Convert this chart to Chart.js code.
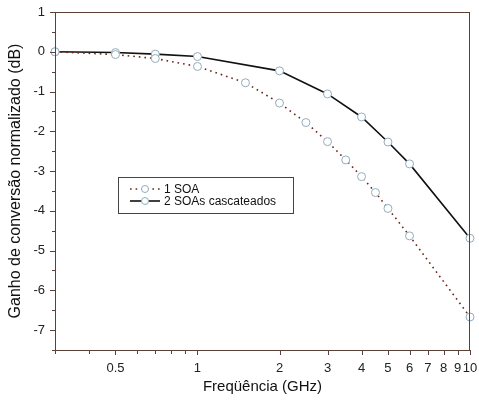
<!DOCTYPE html>
<html>
<head>
<meta charset="utf-8">
<script src="https://cdn.jsdelivr.net/npm/chart.js@4"></script>
<style>
  body { margin: 0; background: #fff; }
  #wrap { width: 479px; height: 400px; }
</style>
</head>
<body>
<div id="wrap"><canvas id="chart-1"></canvas></div>
<script>
/* global Chart */

// data
const freqOne = [0.3, 0.5, 0.7, 1, 1.5, 2, 2.5, 3, 3.5, 4, 4.5, 5, 6, 10]
const gainOne = [0, -0.07, -0.17, -0.37, -0.78, -1.29, -1.78, -2.26, -2.72, -3.14, -3.54, -3.94, -4.63, -6.67]
const freqTwo = [0.3, 0.5, 0.7, 1, 2, 3, 4, 5, 6, 10]
const gainTwo = [0, -0.02, -0.06, -0.12, -0.48, -1.06, -1.64, -2.27, -2.82, -4.69]
const seriesLabels = ['1 SOA', '2 SOAs cascateados']
const xTicks = [0.3, 0.4, 0.5, 0.6, 0.7, 0.8, 0.9, 1, 2, 3, 4, 5, 6, 7, 8, 9, 10]
const xLabelled = [0.5, 1, 2, 3, 4, 5, 6, 7, 8, 9, 10]

const FRAME = '#5b4038'
const MARKER = '#93adbb'
const FONT = 'Liberation Sans, Arial, sans-serif'

const toPoints = (xs, ys) => xs.map((x, i) => ({ x, y: ys[i] }))

// frame, tick marks and the boxed legend
const framePlugin = {
  id: 'frame',
  afterDraw (chart) {
    const ctx = chart.ctx
    const area = chart.chartArea
    const xs = chart.scales.x
    const ys = chart.scales.y
    ctx.save()
    ctx.strokeStyle = FRAME
    ctx.lineWidth = 1
    ctx.strokeRect(area.left + 0.5, area.top + 0.5, area.right - area.left - 1, area.bottom - area.top)
    ctx.beginPath()
    xs.ticks.forEach(t => {
      const px = Math.round(xs.getPixelForValue(t.value)) + 0.5
      ctx.moveTo(px, area.bottom)
      ctx.lineTo(px, area.bottom + (xLabelled.includes(t.value) ? 5 : 4))
    })
    ys.ticks.forEach(t => {
      const py = Math.round(ys.getPixelForValue(t.value)) + 0.5
      ctx.moveTo(area.left, py)
      ctx.lineTo(area.left - (Number.isInteger(t.value) ? 5 : 3), py)
    })
    ctx.stroke()

    // legend
    const lx = 118
    const ly = 177
    ctx.fillStyle = '#fff'
    ctx.fillRect(lx, ly, 175, 36)
    ctx.strokeStyle = '#444'
    ctx.strokeRect(lx + 0.5, ly + 0.5, 175, 36)
    ctx.font = '12px ' + FONT
    ctx.textBaseline = 'middle'
    chart.data.datasets.forEach((ds, i) => {
      const y = ly + 12 + i * 12
      ctx.beginPath()
      ctx.strokeStyle = ds.borderColor
      ctx.lineWidth = ds.borderWidth
      ctx.setLineDash(ds.borderDash || [])
      ctx.moveTo(lx + 12, y)
      ctx.lineTo(lx + 42, y)
      ctx.stroke()
      ctx.setLineDash([])
      ctx.beginPath()
      ctx.fillStyle = '#fff'
      ctx.strokeStyle = MARKER
      ctx.lineWidth = 1
      ctx.arc(lx + 27, y, 3.5, 0, Math.PI * 2)
      ctx.fill()
      ctx.stroke()
      ctx.fillStyle = '#111'
      ctx.fillText(ds.label, lx + 46, y + 1)
    })
    ctx.restore()
  }
}

const config = {
  type: 'line',
  data: {
    datasets: [
      {
        label: seriesLabels[0],
        data: toPoints(freqOne, gainOne),
        borderColor: '#6a2418',
        borderWidth: 1.6,
        borderDash: [1.6, 4],
        pointRadius: 4,
        pointBorderWidth: 1,
        pointBorderColor: MARKER,
        pointBackgroundColor: '#fff',
        tension: 0
      },
      {
        label: seriesLabels[1],
        data: toPoints(freqTwo, gainTwo),
        borderColor: '#111',
        borderWidth: 1.6,
        pointRadius: 4,
        pointBorderWidth: 1,
        pointBorderColor: MARKER,
        pointBackgroundColor: '#fff',
        tension: 0
      }
    ]
  },
  options: {
    responsive: false,
    animation: false,
    clip: false,
    layout: { padding: { top: 12, right: 9, left: 0, bottom: 0 } },
    plugins: { legend: { display: false }, tooltip: { enabled: false } },
    scales: {
      x: {
        type: 'logarithmic',
        min: 0.3,
        max: 10,
        afterBuildTicks: s => { s.ticks = xTicks.map(v => ({ value: v })) },
        afterFit: s => {
          s.height = 50
          s.paddingLeft = 0
          s.paddingRight = 0
        },
        grid: { drawOnChartArea: false, drawTicks: false },
        border: { display: false },
        ticks: {
          autoSkip: false,
          maxRotation: 0,
          padding: 11,
          color: '#222',
          font: { family: FONT, size: 13 },
          callback: v => xLabelled.includes(v) ? String(v) : ''
        },
        title: {
          display: true,
          text: 'Freqüência (GHz)',
          color: '#111',
          font: { family: FONT, size: 15 },
          padding: { top: 0, bottom: 4 }
        }
      },
      y: {
        min: -7.5,
        max: 1,
        afterFit: s => {
          s.width = 55
          s.paddingTop = 0
          s.paddingBottom = 0
        },
        grid: { drawOnChartArea: false, drawTicks: false },
        border: { display: false },
        ticks: {
          stepSize: 0.5,
          padding: 10,
          color: '#222',
          font: { family: FONT, size: 13 },
          callback: v => Number.isInteger(v) ? String(v) : ''
        },
        title: {
          display: true,
          text: 'Ganho de conversão normalizado (dB)',
          color: '#111',
          font: { family: FONT, size: 16 },
          padding: { top: 6, bottom: 0 }
        }
      }
    }
  },
  plugins: [framePlugin]
}

const canvas = document.getElementById('chart-1')
canvas.width = 479
canvas.height = 400
const chartOne = new Chart(canvas, config)
</script>
</body>
</html>
